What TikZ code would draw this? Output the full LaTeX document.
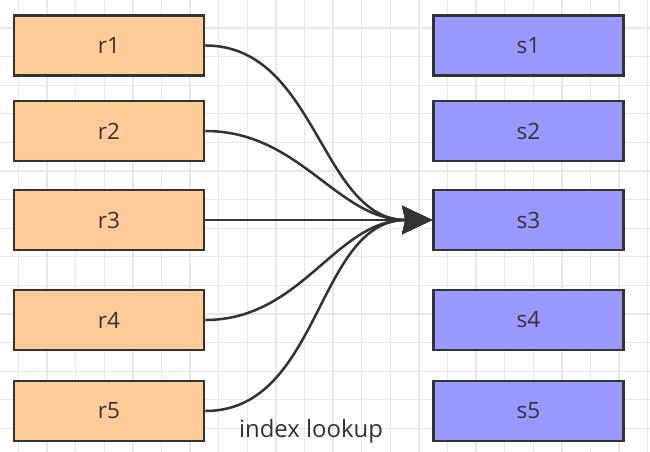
\documentclass[tikz,border=0pt]{standalone}
\usepackage{fontspec}
\setmainfont{Open Sans}
\usetikzlibrary{arrows.meta}
\definecolor{rfill}{HTML}{FFCC99}
\definecolor{sfill}{HTML}{9999FF}
\definecolor{edge}{HTML}{333333}
\definecolor{gridc}{HTML}{E8E8E8}

\begin{document}
\begin{tikzpicture}[x=0.025cm, y=-0.025cm,
    box/.style={draw=edge, line width=1.8pt, minimum width=4.75cm, minimum height=1.5cm,
      font=\fontsize{16}{19}\selectfont, text=edge},
    rbox/.style={box, fill=rfill},
    sbox/.style={box, fill=sfill},
    link/.style={draw=edge, line width=1.8pt, -{Stealth[length=0.75cm, width=0.7cm, inset=0.08cm]}}]
	\useasboundingbox (0,0) rectangle (650,452);
	\fill[white] (0,0) rectangle (650,452);
	\foreach \i in {0,...,22}
		\draw[gridc, line width=0.9pt] ({18.5+28.6*\i},0) -- ({18.5+28.6*\i},452);
	\foreach \i in {1,...,15}
		\draw[gridc, line width=0.9pt] (0,{-0.6+28.6*\i}) -- (650,{-0.6+28.6*\i});
	\foreach \n/\y in {1/45.5, 2/131, 3/220, 4/320, 5/411} {
			\node[rbox] (r\n) at (109,\y) {r\n};
			\node[sbox] (s\n) at (528.5,\y) {s\n};
		}
	\foreach \n in {1,2,4,5}
		\draw[link] (r\n.east) to[out=0, in=180] (s3.west);
	\draw[link] (r3.east) -- (s3.west);
	\node[font=\fontsize{17}{20}\selectfont, text=edge] (lookup) at (311,431) {index lookup};
\end{tikzpicture}
\end{document}
